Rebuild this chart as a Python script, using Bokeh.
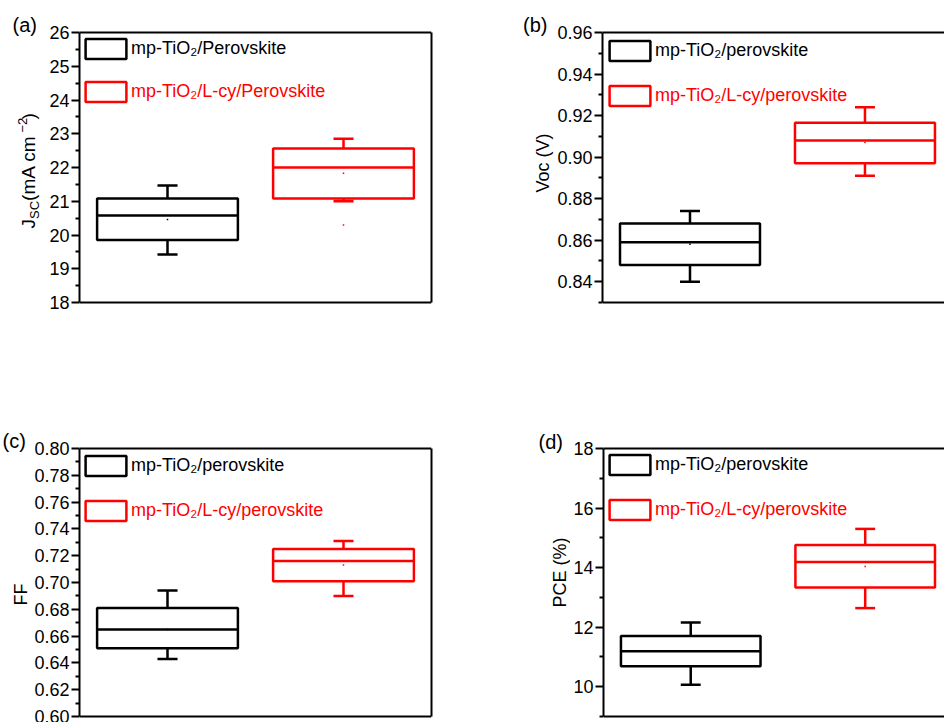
import numpy as np
from math import pi
from bokeh.plotting import figure
from bokeh.layouts import column, row
from bokeh.core.properties import value
from bokeh.models import (Range1d, LinearAxis, FixedTicker, PrintfTickFormatter,
                          Legend, LegendItem, ColumnDataSource, Span)
from bokeh.embed import file_html
from bokeh.resources import INLINE

# ---------------- data ----------------
positions = [1, 2]
colors = ["#000000", "#FF0000"]

# (a) Jsc (mA cm^-2)
jsc_labels = ["mp-TiO₂/Perovskite", "mp-TiO₂/L-cy/Perovskite"]
jsc_min = [19.42, 21.00]
jsc_q1 = [19.85, 21.08]
jsc_med = [20.58, 22.00]
jsc_q3 = [21.08, 22.56]
jsc_max = [21.47, 22.85]
jsc_mean = [20.46, 21.83]
jsc_extra = [None, 20.30]

# (b) Voc (V)
voc_labels = ["mp-TiO₂/perovskite", "mp-TiO₂/L-cy/perovskite"]
voc_min = [0.840, 0.891]
voc_q1 = [0.848, 0.897]
voc_med = [0.859, 0.908]
voc_q3 = [0.868, 0.9165]
voc_max = [0.874, 0.924]
voc_mean = [0.858, 0.907]

# (c) FF
ff_labels = ["mp-TiO₂/perovskite", "mp-TiO₂/L-cy/perovskite"]
ff_min = [0.643, 0.690]
ff_q1 = [0.651, 0.701]
ff_med = [0.665, 0.716]
ff_q3 = [0.681, 0.725]
ff_max = [0.694, 0.731]
ff_mean = [0.665, 0.713]

# (d) PCE (%)
pce_labels = ["mp-TiO₂/perovskite", "mp-TiO₂/L-cy/perovskite"]
pce_min = [10.07, 12.64]
pce_q1 = [10.69, 13.33]
pce_med = [11.19, 14.19]
pce_q3 = [11.70, 14.76]
pce_max = [12.16, 15.30]
pce_mean = [11.19, 14.04]

# axis ranges and ticks
jsc_range = (18, 26)
voc_range = (0.83, 0.96)
ff_range = (0.60, 0.80)
pce_range = (9, 18)
jsc_ticks = [18, 19, 20, 21, 22, 23, 24, 25, 26]
jsc_minor = [18.5, 19.5, 20.5, 21.5, 22.5, 23.5, 24.5, 25.5]
voc_ticks = [0.84, 0.86, 0.88, 0.90, 0.92, 0.94, 0.96]
voc_minor = [0.83, 0.85, 0.87, 0.89, 0.91, 0.93, 0.95]
ff_ticks = [0.60, 0.62, 0.64, 0.66, 0.68, 0.70, 0.72, 0.74, 0.76, 0.78, 0.80]
ff_minor = [0.61, 0.63, 0.65, 0.67, 0.69, 0.71, 0.73, 0.75, 0.77, 0.79]
pce_ticks = [10, 12, 14, 16, 18]
pce_minor = [9, 11, 13, 15, 17]

FONT = "Liberation Sans"
BOX_HALF = 0.4
CAP_HALF = 0.057
LW = 2.5


def style_axis(ax, ticks, minor, fmt, bounds):
    ax.bounds = bounds
    ax.ticker = FixedTicker(ticks=ticks, minor_ticks=minor)
    ax.formatter = PrintfTickFormatter(format=fmt)
    ax.axis_line_width = 2
    ax.axis_line_color = "black"
    ax.major_tick_line_width = 2
    ax.minor_tick_line_width = 2
    ax.major_tick_line_color = "black"
    ax.minor_tick_line_color = "black"
    ax.major_tick_out = 8
    ax.major_tick_in = 0
    ax.minor_tick_out = 4
    ax.minor_tick_in = 0
    ax.major_label_standoff = 2
    ax.major_label_text_font = FONT
    ax.major_label_text_font_size = "18px"
    ax.major_label_text_color = "black"


def bare_axis(ax, bounds):
    ax.bounds = bounds
    ax.ticker = FixedTicker(ticks=[])
    ax.axis_line_width = 2
    ax.axis_line_color = "black"
    ax.major_tick_out = 0
    ax.major_tick_in = 0
    ax.minor_tick_out = 0
    ax.minor_tick_in = 0
    ax.major_label_text_font_size = "0px"


def make_panel(width, height, bl, br, top_px, bot_px, xend, yr, ticks, minor, fmt,
               mins, q1, med, q3, maxs, means, labels, leg_pos, right_border=True,
               extra=None):
    inner = height - top_px - bot_px
    upp = (yr[1] - yr[0]) / inner
    y_rng = Range1d(yr[0] - bot_px * upp, yr[1] + top_px * upp)
    p = figure(width=width, height=height, output_backend="svg", toolbar_location=None,
               x_range=Range1d(0.5, xend), y_range=y_rng, x_axis_type=None,
               min_border_left=bl, min_border_right=br, min_border_top=0,
               min_border_bottom=0)
    p.outline_line_color = None
    p.ygrid.visible = False
    p.background_fill_color = "white"
    p.border_fill_color = "white"
    style_axis(p.yaxis[0], ticks, minor, fmt, yr)
    for loc in yr:
        p.add_layout(Span(location=loc, dimension="width", line_color="black",
                          line_width=2))
    if right_border:
        r = LinearAxis()
        bare_axis(r, yr)
        p.add_layout(r, "right")

    for i in range(2):
        x = positions[i]
        c = colors[i]
        src = ColumnDataSource(dict(l=[x - BOX_HALF], r=[x + BOX_HALF],
                                    b=[q1[i]], t=[q3[i]]))
        p.segment(x0=[x, x], x1=[x, x], y0=[q3[i], q1[i]], y1=[maxs[i], mins[i]],
                  line_color=c, line_width=LW)
        p.segment(x0=[x - CAP_HALF] * 2, x1=[x + CAP_HALF] * 2,
                  y0=[maxs[i], mins[i]], y1=[maxs[i], mins[i]],
                  line_color=c, line_width=LW)
        box = p.quad(left="l", right="r", bottom="b", top="t", source=src,
                     fill_color=None, line_color=c, line_width=LW)
        p.segment(x0=[x - BOX_HALF], x1=[x + BOX_HALF], y0=[med[i]], y1=[med[i]],
                  line_color=c, line_width=LW)
        p.scatter(x=[x], y=[means[i]], marker="square", size=1.5,
                  fill_color=c, line_color=None)
        if extra is not None and extra[i] is not None:
            p.scatter(x=[x], y=[extra[i]], marker="square", size=1.5,
                      fill_color=c, line_color=None)
        leg = Legend(items=[LegendItem(label=labels[i], renderers=[box])],
                     location=leg_pos[i], glyph_width=51, glyph_height=25,
                     label_standoff=0, padding=0, margin=0, spacing=0,
                     border_line_color=None, background_fill_alpha=0,
                     label_text_font=FONT, label_text_font_size="18px",
                     label_text_color=c)
        p.add_layout(leg)
    return p


def label_fig(w, h):
    f = figure(width=w, height=h, output_backend="svg", toolbar_location=None,
               x_range=Range1d(0, w), y_range=Range1d(0, h), min_border=0,
               min_border_left=0, min_border_right=0, min_border_top=0,
               min_border_bottom=0, x_axis_type=None, y_axis_type=None)
    f.outline_line_color = None
    f.background_fill_color = "white"
    f.border_fill_color = "white"
    return f


def put(f, text, x, ytop, size, angle=0.0):
    """x, ytop: pixel position of the text's vertical middle / start."""
    h = f.height
    f.text(x=[x], y=[h - ytop], text=[text], angle=angle,
           text_align=value("left"), text_baseline=value("middle"),
           text_font=value(FONT), text_font_size=value(size), text_color="black")


# ---------------- panels ----------------
pa = make_panel(455, 420, 34, 69, 32, 118, 2.5, jsc_range, jsc_ticks, jsc_minor, "%d",
                jsc_min, jsc_q1, jsc_med, jsc_q3, jsc_max, jsc_mean, jsc_labels,
                [(1, 359), (1, 316)], extra=jsc_extra)
pb = make_panel(390, 420, 46, 0, 32, 118, 0.5 + 344 / 176, voc_range, voc_ticks, voc_minor,
                "%.2f", voc_min, voc_q1, voc_med, voc_q3, voc_max, voc_mean, voc_labels,
                [(2, 357), (2, 312)], right_border=False)
pc = make_panel(470, 302, 49, 69, 28, 6, 2.5, ff_range, ff_ticks, ff_minor, "%.2f",
                ff_min, ff_q1, ff_med, ff_q3, ff_max, ff_mean, ff_labels,
                [(1, 244), (1, 199)])
pd_ = make_panel(374, 302, 30, 0, 28, 6, 0.5 + 344 / 176, pce_range, pce_ticks, pce_minor, "%d",
                 pce_min, pce_q1, pce_med, pce_q3, pce_max, pce_mean, pce_labels,
                 [(1, 245), (1, 200)], right_border=False)

# label strips (panel letters and y-axis titles)
la = label_fig(45, 420)
lb = label_fig(54, 420)
lc = label_fig(30, 302)
ld = label_fig(70, 302)

put(la, "(a)", 12, 24, "20px")
put(lb, "(b)", 22.5, 24, "20px")
put(lc, "(c)", 2, 20.5, "20px")
put(ld, "(d)", 38, 21, "20px")

# J_SC (mA cm^-2), rotated, reading bottom -> top
mx = 27.5
ys = 228
put(la, "J", mx, ys, "19px", angle=pi / 2)
put(la, "SC", mx + 6, ys - 9.5, "13px", angle=pi / 2)
put(la, " (mA cm", mx, ys - 27.6, "19px", angle=pi / 2)
put(la, "−2", mx - 6, ys - 96, "13px", angle=pi / 2)
put(la, ")", mx, ys - 109, "19px", angle=pi / 2)

put(lb, "Voc (V)", 42.2, 192, "18px", angle=pi / 2)
put(lc, "FF", 20.2, 185, "18px", angle=pi / 2)
put(ld, "PCE (%)", 59.7, 187, "18px", angle=pi / 2)

layout = column(row(la, pa, lb, pb), row(lc, pc, ld, pd_))

open("out.html", "w").write(file_html(layout, INLINE))
